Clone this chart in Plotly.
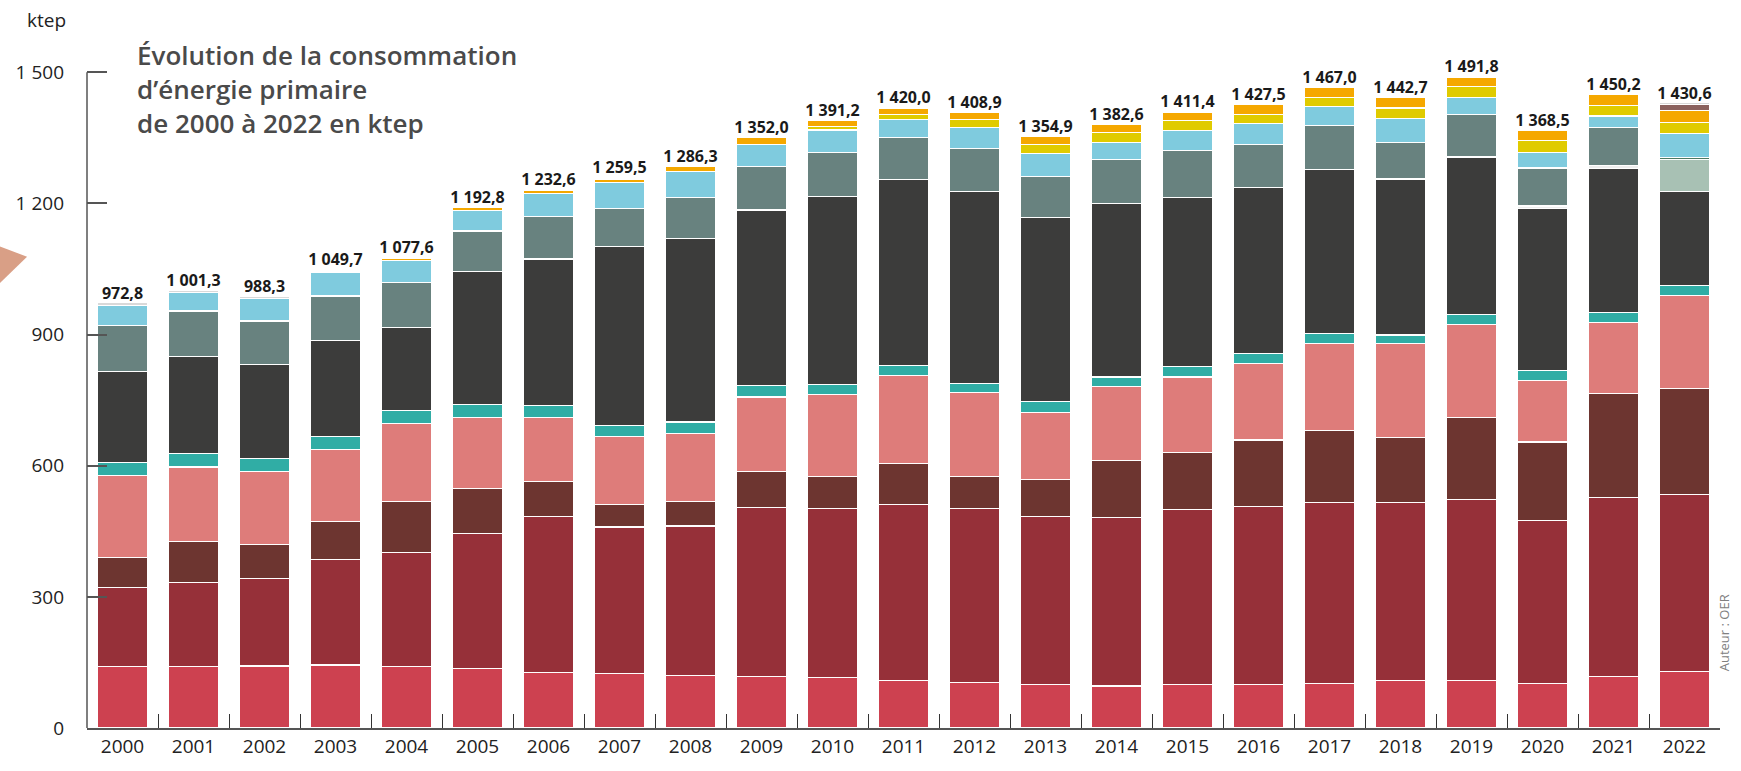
import plotly.graph_objects as go

years = [str(y) for y in range(2000, 2023)]

totals = [972.8, 1001.3, 988.3, 1049.7, 1077.6, 1192.8, 1232.6, 1259.5, 1286.3, 1352.0,
          1391.2, 1420.0, 1408.9, 1354.9, 1382.6, 1411.4, 1427.5, 1467.0, 1442.7, 1491.8,
          1368.5, 1450.2, 1430.6]

# segments, bottom to top (ktep)
essence = [140, 140, 142, 144, 141, 136, 127, 125, 120, 118, 115, 108, 104, 99, 96, 99,
           99, 101, 109, 109, 101, 118, 130]
gazole = [182, 193, 200, 242, 261, 309, 357, 335, 342, 387, 388, 404, 399, 384, 385, 401,
          407, 415, 406, 414, 373, 410, 405]
carbureacteur = [68, 93, 77, 86, 117, 102, 79, 52, 57, 81, 73, 93, 73, 85, 131, 131,
                 153, 165, 150, 187, 180, 237, 242]
fioul = [188, 171, 167, 165, 177, 164, 148, 154, 155, 171, 186, 202, 191, 153, 169, 172,
         175, 199, 215, 213, 140, 163, 212]
butane = [30, 31, 31, 30, 30, 29, 27, 26, 26, 26, 24, 22, 21, 25, 22, 23,
          23, 23, 19, 23, 24, 23, 23]
charbon = [208, 222, 215, 220, 190, 304, 335, 410, 420, 402, 429, 425, 439, 422, 396, 388,
           379, 375, 357, 360, 371, 328, 215]
gaz_autres = [0, 0, 0, 0, 0, 0, 0, 0, 0, 0, 0, 0, 0, 0, 0, 0,
              0, 0, 0, 0, 5, 8, 0]
biomasse = [0, 0, 0, 0, 0, 0, 0, 0, 0, 0, 0, 0, 0, 0, 0, 0,
            0, 0, 0, 0, 0, 0, 74]
bioliquide = [0, 0, 0, 0, 0, 0, 0, 0, 0, 0, 0, 0, 0, 0, 0, 0,
              0, 0, 0, 0, 0, 0, 4]
bagasse = [104, 104, 99, 101, 103, 93, 97, 86, 94, 100, 101, 97, 98, 93, 101, 107,
           99, 100, 83, 97, 87, 86, 0]
hydraulique = [47, 43, 51, 55, 50, 47, 52, 59, 59, 50, 52, 40, 49, 54, 40, 46,
               47, 43, 56, 40, 36, 27, 55]
photovoltaique = [0, 0, 0, 0, 0, 0, 0, 0, 0, 0, 8, 13, 17, 20, 22, 22,
                  22, 22, 23, 24, 26, 24, 25]
solaire_thermique = [0, 0, 0, 3, 5, 7, 8, 9, 12, 16, 14, 14, 16, 18, 19, 20,
                     22, 23, 24, 22, 25, 25, 28]
biogaz = [0, 0, 0, 0, 0, 0, 0, 0, 0, 0, 0, 0, 0, 0, 0, 0,
          0, 0, 0, 0, 0, 0, 13]
autres = [5.8, 4.3, 6.3, 3.7, 3.6, 1.8, 2.6, 3.5, 1.3, 1.0, 1.2, 2.0, 1.9, 1.9, 1.6, 2.4,
          1.5, 1.0, 0.7, 2.8, 0.5, 1.2, 4.6]

series = [
    ("Essence", essence, "#CD4150"),
    ("Gazole", gazole, "#963039"),
    ("Carburéacteur", carbureacteur, "#6D3530"),
    ("Fioul", fioul, "#DE7C7A"),
    ("Butane", butane, "#30ADA5"),
    ("Charbon", charbon, "#3C3C3B"),
    ("Gaz autres", gaz_autres, "#EEEEEE"),
    ("Biomasse", biomasse, "#A8C1B4"),
    ("Bioliquide", bioliquide, "#4E7A63"),
    ("Bagasse", bagasse, "#68827F"),
    ("Hydraulique", hydraulique, "#7FCBDE"),
    ("Photovoltaïque", photovoltaique, "#E0CB00"),
    ("Solaire thermique", solaire_thermique, "#F5A800"),
    ("Biogaz", biogaz, "#8B625E"),
    ("Autres", autres, "#D9D9D9"),
]


def fr(v):
    return f"{v:,.1f}".replace(",", " ").replace(".", ",")


fig = go.Figure()
for name, values, color in series:
    fig.add_trace(go.Bar(
        name=name,
        x=years,
        y=values,
        marker=dict(color=color, line=dict(color="white", width=1.2)),
        hovertemplate=f"<b>{name}</b><br>%{{x}} : %{{y}} ktep<extra></extra>",
    ))

fig.add_trace(go.Scatter(
    x=years,
    y=totals,
    mode="text",
    text=[f"<b>{fr(v)}</b>" for v in totals],
    textposition="top center",
    textfont=dict(family="Open Sans", size=16, color="#1a1a1a"),
    cliponaxis=False,
    hoverinfo="skip",
    showlegend=False,
))

fig.update_layout(
    width=1741,
    height=771,
    paper_bgcolor="white",
    plot_bgcolor="white",
    barmode="stack",
    bargap=0.3,
    showlegend=False,
    font=dict(family="Open Sans", size=19, color="#222"),
    margin=dict(l=87, r=21, t=46, b=43),
    xaxis=dict(
        type="category",
        range=[-0.5, 22.5],
        showline=True, linecolor="#555", linewidth=2,
        ticks="inside", tickson="boundaries", ticklen=14,
        tickcolor="#333", tickwidth=1.3,
        showgrid=False,
        tickfont=dict(size=19, color="#222"),
    ),
    yaxis=dict(
        range=[0, 1560],
        tickvals=[0, 300, 600, 900, 1200, 1500],
        ticktext=["0", "300", "600", "900", "1 200", "1 500"],
        ticks="inside", ticklen=20, tickcolor="#555", tickwidth=1.5,
        ticklabelstandoff=22,
        showline=False, showgrid=False, zeroline=False,
        tickfont=dict(size=19, color="#222"),
    ),
    shapes=[
        dict(type="line", xref="paper", yref="y", x0=0, x1=0, y0=0, y1=1500,
             line=dict(color="#555", width=1.5)),
        dict(type="path", xref="paper", yref="paper",
             path="M -0.06 0.712 L -0.0367 0.691 L -0.06 0.637 Z",
             fillcolor="#D99F86", line=dict(width=0)),
    ],
    annotations=[
        dict(text="ktep", xref="paper", yref="paper", x=-0.0245, y=1.038,
             xanchor="center", yanchor="middle", showarrow=False,
             font=dict(size=19, color="#222")),
        dict(text="Évolution de la consommation<br>d’énergie primaire<br>de 2000 à 2022 en ktep",
             xref="paper", yref="paper", x=0.0294, y=1.016, xanchor="left", yanchor="top",
             align="left", showarrow=False,
             font=dict(family="Open Sans", size=26, color="#4a4a4a", weight=600)),
        dict(text="Auteur : OER", xref="paper", yref="paper", x=1.0025, y=0.139,
             textangle=-90, xanchor="center", yanchor="middle", showarrow=False,
             font=dict(size=13, color="#808080")),
    ],
)

fig.write_html("out.html", config={"displayModeBar": False},
               post_script="document.body.style.margin='0';")
